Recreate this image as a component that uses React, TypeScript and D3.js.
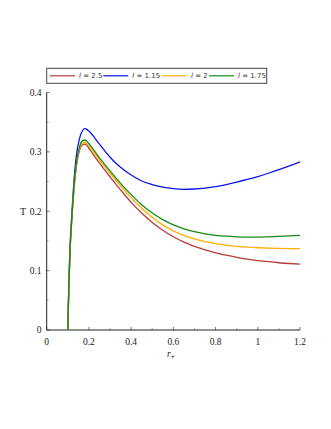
import React from "react";
import * as d3 from "d3";

// r+ sample points and T for each l
const rPlus = [
  0.1, 0.105, 0.11, 0.12, 0.13, 0.14, 0.155, 0.17, 0.18, 0.19, 0.2, 0.25, 0.3, 0.35, 0.4,
  0.45, 0.5, 0.55, 0.6, 0.65, 0.7, 0.75, 0.8, 0.85, 0.9, 0.95, 1.0, 1.05, 1.1, 1.15, 1.2,
];

const tL250 = [
  0, 0.07, 0.125, 0.19, 0.24, 0.274, 0.302, 0.312, 0.313, 0.311, 0.306, 0.281, 0.258, 0.236,
  0.215, 0.197, 0.181, 0.168, 0.157, 0.148, 0.141, 0.135, 0.13, 0.126, 0.1225, 0.1195, 0.117,
  0.115, 0.1133, 0.112, 0.111,
];
const tL115 = [
  0, 0.08, 0.135, 0.2, 0.255, 0.292, 0.322, 0.336, 0.339, 0.338, 0.335, 0.313, 0.291, 0.274,
  0.261, 0.251, 0.245, 0.2405, 0.238, 0.237, 0.2375, 0.239, 0.2415, 0.245, 0.249, 0.2535,
  0.2585, 0.264, 0.27, 0.2765, 0.283,
];
const tL200 = [
  0, 0.072, 0.128, 0.192, 0.243, 0.277, 0.305, 0.315, 0.316, 0.314, 0.31, 0.286, 0.264, 0.243,
  0.223, 0.205, 0.19, 0.177, 0.167, 0.159, 0.1535, 0.149, 0.1455, 0.143, 0.141, 0.1395,
  0.1385, 0.1378, 0.1374, 0.1372, 0.1372,
];
const tL175 = [
  0, 0.075, 0.13, 0.195, 0.245, 0.28, 0.308, 0.319, 0.32, 0.318, 0.314, 0.29, 0.268, 0.247,
  0.228, 0.211, 0.197, 0.186, 0.177, 0.1705, 0.1655, 0.162, 0.1595, 0.158, 0.157, 0.1565,
  0.1565, 0.157, 0.1577, 0.1585, 0.1595,
];

const seriesLabels = ["2.5", "1.15", "2", "1.75"];
const seriesValues = [tL250, tL115, tL200, tL175];
const seriesColors = ["#b33b3b", "#0a14f0", "#ffae00", "#168a16"];

const xTicks = [0, 0.2, 0.4, 0.6, 0.8, 1, 1.2];
const yTicks = [0, 0.1, 0.2, 0.3, 0.4];

const W = 331;
const H = 429;
const left = 46.7;
const right = 300;
const top = 92.5;
const bottom = 330;

export default function App() {
  const x = d3.scaleLinear().domain([0, 1.2]).range([left, right]);
  const y = d3.scaleLinear().domain([0, 0.4]).range([bottom, top]);
  const line = d3
    .line<number>()
    .x((_, i) => x(rPlus[i]))
    .y((d) => y(d))
    .curve(d3.curveMonotoneX);

  const xMinor = d3.range(1, 12, 2).map((i) => i / 10);
  const yMinor = d3.range(1, 8, 2).map((i) => i / 20);

  const legendX = [50, 103.3, 162, 209];
  const serif = "'Liberation Serif', 'DejaVu Serif', serif";
  const sans = "'DejaVu Sans', 'Liberation Sans', sans-serif";

  return (
    <svg
      width={W}
      height={H}
      style={{ position: "absolute", left: 0, top: 0, background: "#fff" }}
    >
      {/* legend */}
      <rect x={46.7} y={68.3} width={220} height={15} fill="#fff" stroke="#444" strokeWidth={1} />
      {seriesLabels.map((lab, i) => (
        <g key={lab}>
          <line
            x1={legendX[i]}
            x2={legendX[i] + 25}
            y1={75.8}
            y2={75.8}
            stroke={seriesColors[i]}
            strokeWidth={1.2}
          />
          <text
            x={legendX[i] + 29}
            y={78.3}
            fontFamily={sans}
            fontSize={7}
            fill="#333"
          >
            <tspan fontStyle="italic">l</tspan>
            {" = " + lab}
          </text>
        </g>
      ))}

      {/* minor ticks */}
      {xMinor.map((v) => (
        <line key={"xm" + v} x1={x(v)} x2={x(v)} y1={bottom} y2={bottom - 2} stroke="#999" strokeWidth={0.8} />
      ))}
      {yMinor.map((v) => (
        <line key={"ym" + v} x1={left} x2={left + 2} y1={y(v)} y2={y(v)} stroke="#999" strokeWidth={0.8} />
      ))}
      {/* major ticks */}
      {xTicks.map((v) => (
        <g key={"xt" + v}>
          <line x1={x(v)} x2={x(v)} y1={bottom} y2={bottom - 3} stroke="#555" strokeWidth={0.8} />
          <text
            x={x(v)}
            y={344.5}
            textAnchor="middle"
            fontFamily={serif}
            fontSize={9.5}
            fill="#222"
          >
            {v}
          </text>
        </g>
      ))}
      {yTicks.map((v) => (
        <g key={"yt" + v}>
          <line x1={left} x2={left + 3} y1={y(v)} y2={y(v)} stroke="#555" strokeWidth={0.8} />
          <text
            x={41.5}
            y={y(v) + 3.3}
            textAnchor="end"
            fontFamily={serif}
            fontSize={9.5}
            fill="#222"
          >
            {v}
          </text>
        </g>
      ))}

      {/* axes */}
      <line x1={left} x2={left} y1={top} y2={bottom} stroke="#222" strokeWidth={1} />
      <line x1={left} x2={right} y1={bottom} y2={bottom} stroke="#222" strokeWidth={1} />

      {/* axis labels */}
      <text x={20} y={214.5} fontFamily={serif} fontSize={10} fill="#222">
        T
      </text>
      <text x={167} y={356.5} fontFamily={serif} fontSize={9.5} fontStyle="italic" fill="#222">
        r
        <tspan dy={2} fontSize={7.5} fontStyle="normal">
          +
        </tspan>
      </text>

      {/* curves */}
      {seriesValues.map((vals, i) => (
        <path
          key={seriesLabels[i]}
          d={line(vals) ?? ""}
          fill="none"
          stroke={seriesColors[i]}
          strokeWidth={1.3}
        />
      ))}
    </svg>
  );
}
